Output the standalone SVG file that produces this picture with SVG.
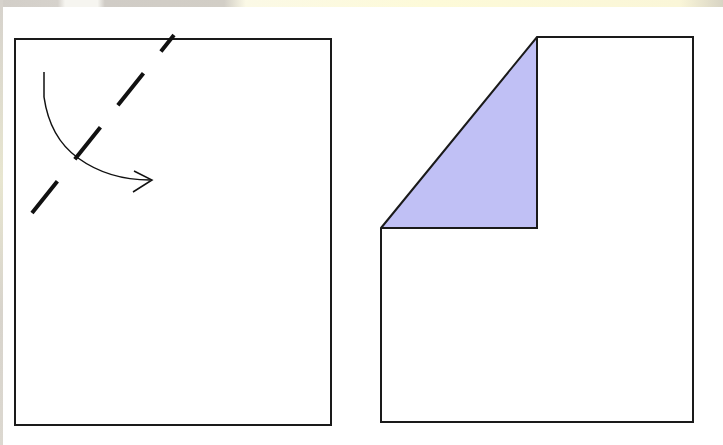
<svg xmlns="http://www.w3.org/2000/svg" width="723" height="445" viewBox="0 0 723 445">
  <defs>
    <style>
      .edge { fill: none; stroke: #1a1a1a; stroke-width: 2; stroke-linejoin: miter; }
      .fold { fill: none; stroke: #111; stroke-width: 4; stroke-dasharray: 41 28; stroke-dashoffset: 20; }
      .turn { fill: none; stroke: #111; stroke-width: 1.5; }
    </style>
    <linearGradient id="topband" x1="0" y1="0" x2="1" y2="0">
      <stop offset="0" stop-color="#d2cec8"/>
      <stop offset="0.08" stop-color="#d6d2cc"/>
      <stop offset="0.09" stop-color="#f6f5f0"/>
      <stop offset="0.135" stop-color="#f6f5f0"/>
      <stop offset="0.145" stop-color="#d0ccc6"/>
      <stop offset="0.31" stop-color="#d2cec6"/>
      <stop offset="0.34" stop-color="#fbf9e6"/>
      <stop offset="0.6" stop-color="#fdfad8"/>
      <stop offset="0.94" stop-color="#faf6d8"/>
      <stop offset="1" stop-color="#d8d4c4"/>
    </linearGradient>
    <linearGradient id="leftband" x1="0" y1="0" x2="0" y2="1">
      <stop offset="0" stop-color="#d6d2cc"/>
      <stop offset="0.4" stop-color="#e8e6d0"/>
      <stop offset="0.7" stop-color="#d8d4cc"/>
      <stop offset="1" stop-color="#dcd8d0"/>
    </linearGradient>
  </defs>
  <rect x="0" y="0" width="723" height="445" fill="#ffffff"/>
  <rect x="0" y="0" width="723" height="7" fill="url(#topband)"/>
  <rect x="0" y="0" width="3" height="445" fill="url(#leftband)"/>

  <g id="sheet-left">
    <rect class="edge" x="15" y="39" width="316" height="386"/>
  </g>

  <g id="sheet-right">
    <polygon points="381,228 537,37 537,228" fill="#c0c0f5" stroke="none"/>
    <path class="edge" d="M381,228 L537,37 L693,37 L693,422 L381,422 Z M381,228 H537 V37"/>
  </g>

  <g id="connectors">
    <line class="fold" x1="174" y1="35" x2="32" y2="213"/>
    <path class="turn" d="M44,72 V97 C48,125 60,145 78,158 C96,171 118,180 150,180"/>
    <path class="turn" d="M134,171 L152,180 L133,192" stroke-width="2"/>
  </g>
</svg>
